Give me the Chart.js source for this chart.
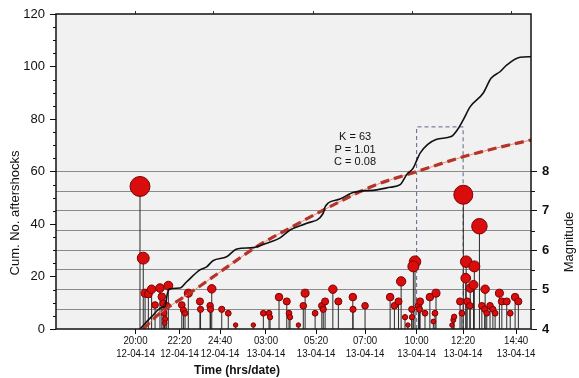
<!DOCTYPE html>
<html>
<head>
<meta charset="utf-8">
<script src="https://cdn.jsdelivr.net/npm/chart.js@4.4.0/dist/chart.umd.min.js"></script>
<style>
  html, body { margin: 0; padding: 0; background: #fff; }
</style>
</head>
<body>
<canvas id="chart" width="579" height="378"></canvas>
<script>
// time axis: hours after 20:00 on 12-04-14
const tickTime = ['20:00', '22:20', '24:40', '03:00', '05:20', '07:00', '10:00', '12:20', '14:40'];
const tickDate = ['12-04-14', '12-04-14', '12-04-14', '13-04-14', '13-04-14', '13-04-14', '13-04-14', '13-04-14', '13-04-14'];
const tickAt = [0, 2.16, 4.15, 6.40, 8.86, 11.26, 13.79, 16.07, 18.67];
const topTickAt = [0, 3.85, 8.71, 13.57, 18.43];

// cumulative number of aftershocks (observed)
const cumTime = [0.22, 0.79, 1.29, 1.45, 1.55, 1.65, 2.18, 2.51, 3.16, 3.49, 3.80, 4.47, 4.97, 5.77, 6.44, 7.09, 7.58, 8.40, 9.20, 9.30, 9.45, 10.03, 10.67, 11.83, 12.49, 12.98, 13.32, 13.62, 13.81, 13.96, 14.74, 15.48, 15.78, 16.07, 16.42, 17.06, 17.44, 17.88, 18.22, 18.86, 19.40];
const cumCount = [0, 4.7, 8.2, 8.6, 13, 15.2, 15.6, 18, 22.5, 23.7, 26, 27.5, 30.5, 31, 32.7, 34.7, 37.7, 40.3, 44, 46.5, 48, 49.5, 52, 53, 54, 55, 59, 61.3, 64.5, 67, 72.2, 73.3, 75.8, 79.6, 84.7, 89.9, 95.5, 98, 100.6, 103.5, 103.7];

// modified Omori fit
const fitTime = [0.37, 1.20, 2.67, 4.29, 5.95, 7.58, 9.54, 11.65, 13.81, 16.07, 17.89, 19.40];
const fitCount = [0, 6, 13.7, 22.5, 31.4, 38.5, 46.6, 54.5, 60, 65.6, 69.3, 72];
const fitText = ['K = 63', 'P = 1.01', 'C = 0.08'];
const fitTextAt = { x: 10.77, y: [73.3, 68.2, 63.7] };

// window box
const boxFrom = 13.79, boxTo = 16.07, boxTop = 77;

// events: time and magnitude
const eventTime = [0.22, 0.38, 0.47, 0.63, 0.79, 0.96, 1.20, 1.29, 1.36, 1.40, 1.45, 1.43, 1.61, 1.53, 2.27, 2.35, 2.43, 2.59, 3.16, 3.19, 3.74, 3.66, 3.68, 4.23, 4.55, 4.91, 5.78, 6.27, 6.55, 6.60, 7.04, 7.42, 7.53, 7.58, 7.99, 8.32, 8.23, 8.81, 9.14, 9.30, 9.21, 9.68, 9.95, 10.66, 10.67, 11.26, 12.49, 12.70, 12.90, 13.03, 13.22, 13.36, 13.55, 13.56, 13.71, 13.63, 13.88, 13.96, 13.93, 14.20, 14.44, 14.69, 14.74, 14.61, 15.52, 15.59, 15.63, 15.92, 16.01, 16.08, 16.22, 16.62, 16.87, 16.20, 16.42, 16.58, 16.27, 16.40, 17.15, 16.99, 17.13, 17.23, 17.39, 17.53, 17.64, 17.85, 17.97, 18.21, 18.38, 18.62, 18.78];
const eventMag = [7.62, 5.80, 4.91, 4.89, 5.01, 4.61, 5.04, 4.82, 4.65, 4.40, 4.25, 4.15, 5.10, 4.59, 4.61, 4.48, 4.40, 4.91, 4.70, 4.50, 5.02, 4.59, 4.50, 4.50, 4.40, 4.10, 4.10, 4.40, 4.40, 4.30, 4.81, 4.70, 4.40, 4.30, 4.10, 4.91, 4.59, 4.40, 4.59, 4.70, 4.50, 5.01, 4.70, 4.81, 4.50, 4.59, 4.81, 4.59, 4.70, 5.21, 4.30, 4.10, 4.50, 4.30, 5.71, 5.59, 4.59, 4.70, 4.50, 4.40, 4.81, 4.40, 4.91, 4.19, 4.10, 4.23, 4.31, 4.70, 4.40, 7.41, 5.71, 5.59, 6.61, 5.29, 5.04, 5.12, 4.70, 4.59, 5.01, 4.59, 4.50, 4.40, 4.59, 4.50, 4.40, 4.91, 4.70, 4.70, 4.40, 4.81, 4.70];

const mainFont = "'Liberation Sans', Arial, sans-serif";

const stems = [];
eventTime.forEach((t, i) => {
  stems.push({ x: t, y: 4 }, { x: t, y: eventMag[i] }, { x: t, y: null });
});

const extras = {
  id: 'extras',
  beforeDraw(chart) {
    const a = chart.chartArea, c = chart.ctx;
    c.save();
    c.fillStyle = '#f1f1f1';
    c.fillRect(a.left, a.top, a.right - a.left, a.bottom - a.top);
    c.restore();
  },
  afterDraw(chart) {
    const a = chart.chartArea, c = chart.ctx;
    const y = chart.scales.y, y2 = chart.scales.y2, x = chart.scales.x;
    c.save();
    c.strokeStyle = '#111';
    c.lineWidth = 1.5;
    c.strokeRect(a.left, a.top, a.right - a.left, a.bottom - a.top);
    // minor ticks
    c.lineWidth = 1;
    c.beginPath();
    for (let v = 5; v < 120; v += 5) {
      if (v % 20 === 0) continue;
      const py = Math.round(y.getPixelForValue(v)) + 0.5;
      c.moveTo(a.left - 3, py); c.lineTo(a.left, py);
    }
    [4.5, 5.5, 6.5, 7.5].forEach(v => {
      const py = Math.round(y2.getPixelForValue(v)) + 0.5;
      c.moveTo(a.right, py); c.lineTo(a.right + 4, py);
    });
    c.stroke();
    c.fillStyle = '#111';
    c.textAlign = 'center';
    c.textBaseline = 'middle';
    // x tick labels (narrow, two lines)
    c.font = '11.5px ' + mainFont;
    tickAt.forEach((v, i) => {
      const px = x.getPixelForValue(v);
      c.save();
      c.translate(px, 0);
      c.scale(0.84, 1);
      c.fillText(tickTime[i], 0, 341);
      c.fillText(tickDate[i], 0, 353.5);
      c.restore();
    });
    // fit parameters
    c.font = '11px ' + mainFont;
    fitText.forEach((s, i) => {
      c.fillText(s, x.getPixelForValue(fitTextAt.x), y.getPixelForValue(fitTextAt.y[i]));
    });
    // axis titles
    c.font = 'bold 12px ' + mainFont;
    c.fillText('Time (hrs/date)', 237, 371);
    c.font = '13px ' + mainFont;
    c.save();
    c.translate(15, 213);
    c.rotate(-Math.PI / 2);
    c.fillText('Cum. No. aftershocks', 0, 0);
    c.restore();
    c.save();
    c.translate(569, 242);
    c.rotate(-Math.PI / 2);
    c.fillText('Magnitude', 0, 0);
    c.restore();
    c.restore();
  }
};

new Chart(document.getElementById('chart'), {
  type: 'line',
  data: {
    datasets: [
      {
        label: 'cumulative',
        data: cumTime.map((t, i) => ({ x: t, y: cumCount[i] })),
        borderColor: '#111',
        borderWidth: 1.6,
        pointRadius: 0,
        cubicInterpolationMode: 'monotone',
        yAxisID: 'y',
        order: 0
      },
      {
        label: 'omori',
        data: fitTime.map((t, i) => ({ x: t, y: fitCount[i] })),
        borderColor: '#b5342a',
        borderWidth: 3.2,
        borderDash: [9, 5],
        pointRadius: 0,
        cubicInterpolationMode: 'monotone',
        yAxisID: 'y',
        order: 1
      },
      {
        label: 'omori thin',
        data: fitTime.map((t, i) => ({ x: t, y: fitCount[i] })),
        borderColor: '#e89080',
        borderWidth: 1,
        pointRadius: 0,
        cubicInterpolationMode: 'monotone',
        yAxisID: 'y',
        order: 2
      },
      {
        label: 'events',
        data: eventTime.map((t, i) => ({ x: t, y: eventMag[i] })),
        showLine: false,
        pointRadius: ctx => 2 + (eventMag[ctx.dataIndex] - 4) * 2.2,
        pointBackgroundColor: '#d90d0d',
        pointBorderColor: '#7d0000',
        pointBorderWidth: 1,
        yAxisID: 'y2',
        order: 3
      },
      {
        label: 'stems',
        data: stems,
        borderColor: '#2a2a2a',
        borderWidth: 1,
        pointRadius: 0,
        spanGaps: false,
        yAxisID: 'y2',
        order: 4
      },
      {
        label: 'box',
        data: [{ x: boxFrom, y: 0 }, { x: boxFrom, y: boxTop }, { x: boxTo, y: boxTop }, { x: boxTo, y: 0 }],
        borderColor: '#5b6785',
        borderWidth: 1,
        borderDash: [4, 3],
        pointRadius: 0,
        yAxisID: 'y',
        order: 5
      }
    ]
  },
  options: {
    responsive: false,
    animation: false,
    devicePixelRatio: 1,
    layout: { padding: 0 },
    plugins: { legend: { display: false }, tooltip: { enabled: false } },
    scales: {
      x: {
        type: 'linear',
        position: 'bottom',
        min: -3.9,
        max: 19.4,
        afterBuildTicks: s => { s.ticks = tickAt.map(v => ({ value: v })); },
        afterFit: s => { s.height = 49; },
        border: { display: false },
        grid: { drawOnChartArea: false, tickLength: 5, tickColor: '#111' },
        ticks: { display: false }
      },
      xTop: {
        type: 'linear',
        position: 'top',
        min: -3.9,
        max: 19.4,
        afterBuildTicks: s => { s.ticks = topTickAt.map(v => ({ value: v })); },
        afterFit: s => { s.height = 14; },
        border: { display: false },
        grid: { drawOnChartArea: false, tickLength: 3, tickColor: '#333' },
        ticks: { display: false }
      },
      y: {
        position: 'left',
        min: 0,
        max: 120,
        afterFit: s => { s.width = 56; },
        border: { display: false },
        grid: { drawOnChartArea: false, tickLength: 6, tickColor: '#111' },
        ticks: { stepSize: 20, padding: 5, color: '#111', font: { family: mainFont, size: 13 } }
      },
      y2: {
        position: 'right',
        min: 4,
        max: 12,
        afterBuildTicks: s => { s.ticks = [4, 4.5, 5, 5.5, 6, 6.5, 7, 7.5, 8].map(v => ({ value: v })); },
        afterFit: s => { s.width = 48; },
        border: { display: false },
        grid: {
          color: ctx => ctx.tick && ctx.tick.value > 4 ? '#8a8a8a' : 'rgba(0,0,0,0)',
          tickColor: ctx => ctx.tick && ctx.tick.value % 1 === 0 ? '#111' : 'rgba(0,0,0,0)',
          tickLength: 6
        },
        ticks: {
          autoSkip: false,
          padding: 5,
          color: '#111',
          font: { family: mainFont, size: 13, weight: 'bold' },
          callback: v => (v % 1 === 0 ? String(v) : '')
        }
      }
    }
  },
  plugins: [extras]
});
</script>
</body>
</html>
